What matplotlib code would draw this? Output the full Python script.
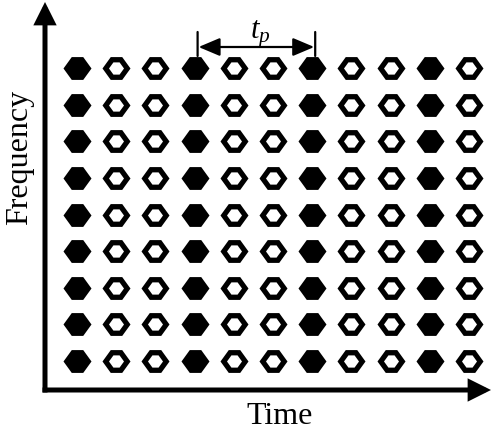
import numpy as np
import matplotlib
matplotlib.use('Agg')
import matplotlib.pyplot as plt

plt.rcParams['font.family'] = 'Liberation Serif'
plt.rcParams['mathtext.fontset'] = 'custom'
plt.rcParams['mathtext.rm'] = 'Liberation Serif'
plt.rcParams['mathtext.it'] = 'Liberation Serif:italic'

'''
Data
'''
n_cols = 11           # time slots
n_rows = 9            # frequency channels
pilot_cols = [0, 3, 6, 9]   # columns with filled (pilot) symbols
xlabel = 'Time'
ylabel = 'Frequency'
period_label = r'$t_p$'
period_span = (3, 6)  # columns marked by the t_p bracket

W, H = 493, 432
fig = plt.figure(figsize=(W / 100, H / 100), dpi=100)
ax = fig.add_axes([0, 0, 1, 1])
# grid units: column spacing 39.2 px, row spacing 36.6 px
ax.set_xlim(-77 / 39.2, (W - 77) / 39.2)
ax.set_ylim((361 - H) / 36.6, 361 / 36.6)
ax.axis('off')

def px(x, y):
    # pixel position (from top-left) -> figure fraction
    return (x / W, 1 - y / H)

# hexagon marker, pointy left/right
hexv = [(-1, 0), (-0.41, 0.815), (0.41, 0.815), (1, 0), (0.41, -0.815), (-0.41, -0.815), (-1, 0)]

cc, rr = np.meshgrid(np.arange(n_cols), np.arange(n_rows))
cc = cc.ravel(); rr = rr.ravel()
hollow = ~np.isin(cc, pilot_cols)

s_out = (28 / 100 * 72) ** 2
s_in = (15 / 100 * 72) ** 2
ax.scatter(cc, rr, s=s_out, marker=hexv, c='black', linewidths=0, zorder=2)
ax.scatter(cc[hollow], rr[hollow], s=s_in, marker=hexv, c='white', linewidths=0, zorder=3)

# axes arrows
arr = dict(arrowstyle='-|>,head_length=1.0,head_width=0.5', lw=3.6, color='black',
           shrinkA=0, shrinkB=0, mutation_scale=11, joinstyle='miter', capstyle='butt')
ax.annotate('', xy=px(45, 2), xytext=px(45, 392.5), xycoords='figure fraction',
            textcoords='figure fraction', arrowprops=arr)
ax.annotate('', xy=px(491, 390), xytext=px(42.5, 390), xycoords='figure fraction',
            textcoords='figure fraction', arrowprops=arr)

fig.text(*px(280, 416), xlabel, fontsize=23, ha='center', va='center')
fig.text(*px(20, 157), ylabel, fontsize=23, ha='center', va='center', rotation=90)

# t_p bracket
x1 = 77 + 39.2 * period_span[0] + 3
x2 = 77 + 39.2 * period_span[1] + 3
for xx in (x1, x2):
    ax.annotate('', xy=px(xx, 56), xytext=px(xx, 32), xycoords='figure fraction',
                textcoords='figure fraction',
                arrowprops=dict(arrowstyle='-', lw=1.6, color='black', shrinkA=0, shrinkB=0))
ax.annotate('', xy=px(x1 + 1, 47), xytext=px(x2 - 1, 47), xycoords='figure fraction',
            textcoords='figure fraction',
            arrowprops=dict(arrowstyle='<|-|>,head_length=1.3,head_width=0.55', lw=1.6,
                            color='black', shrinkA=0, shrinkB=0, mutation_scale=10))
fig.text(*px(260, 34), period_label, fontsize=22, ha='center', va='center')

fig.savefig('out.png', dpi=100)
